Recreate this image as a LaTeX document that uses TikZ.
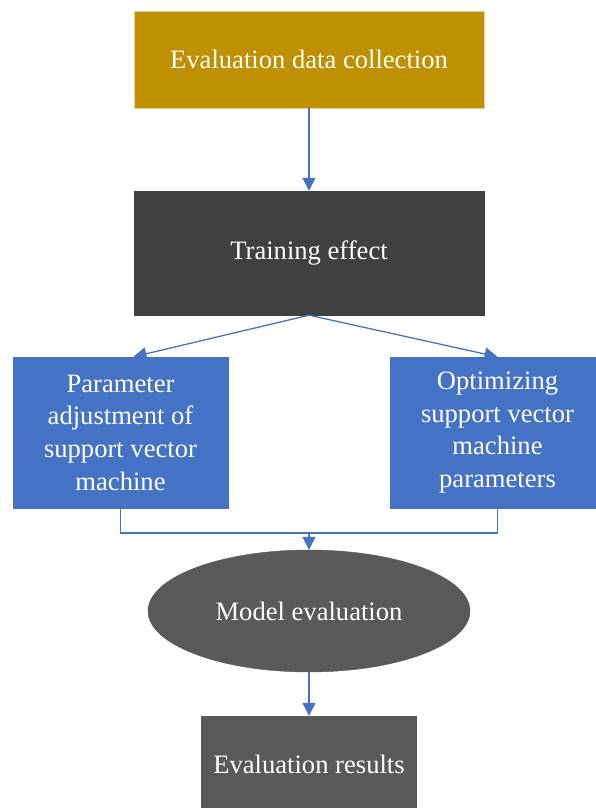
\documentclass[tikz,border=0pt]{standalone}
\usepackage{fontspec}
\setmainfont{Liberation Serif}
\usetikzlibrary{arrows.meta,shapes.geometric,calc}
\definecolor{gold}{HTML}{BF9000}
\definecolor{darkbox}{HTML}{404040}
\definecolor{bluebox}{HTML}{4472C4}
\definecolor{greybox}{HTML}{595959}
\definecolor{linecol}{HTML}{4472C4}
\tikzset{
  box/.style={rectangle, draw=#1, fill=#1, text=white, align=center, inner sep=0pt, font=\fontsize{26.6}{32.7}\selectfont},
  conn/.style={draw=linecol, line width=1.3pt},
  arr/.style={conn, -{Triangle[length=13pt,width=13pt]}}
}
\begin{document}
\begin{tikzpicture}[x=1pt,y=1pt]
\useasboundingbox (0,0) rectangle (595,808);
\fill[white] (0,0) rectangle (595,808);
\node[box=gold, draw=gold!40, minimum width=350pt, minimum height=97pt] (collect) at (309,{808-59.5}) {Evaluation data collection};
\node[box=darkbox, minimum width=350pt, minimum height=124pt] (train) at (309,{808-253}) {Training effect};
\node[box=bluebox, minimum width=215pt, minimum height=151pt] (left) at (120.5,{808-432.5}) {Parameter\\adjustment of\\support vector\\machine};
\node[box=bluebox, minimum width=215pt, minimum height=151pt] (right) at (497.5,{808-432.5}) {Optimizing\\support vector\\machine\\parameters};
\node[box=greybox, ellipse, minimum width=322pt, minimum height=122pt] (model) at (309,{808-611}) {Model evaluation};
\node[box=greybox, minimum width=215pt, minimum height=96pt] (result) at (309,{808-764}) {Evaluation results};
\coordinate (join) at (309,{808-533});
\draw[arr] (collect.south) -- (train.north);
\draw[arr] (train.south) -- ($(left.north)+(13,0)$);
\draw[arr] (train.south) -- (right.north);
\draw[conn] (left.south) |- (join) -| (right.south);
\draw[arr] (join) -- (model.north);
\draw[arr] (model.south) -- (result.north);
\end{tikzpicture}
\end{document}
